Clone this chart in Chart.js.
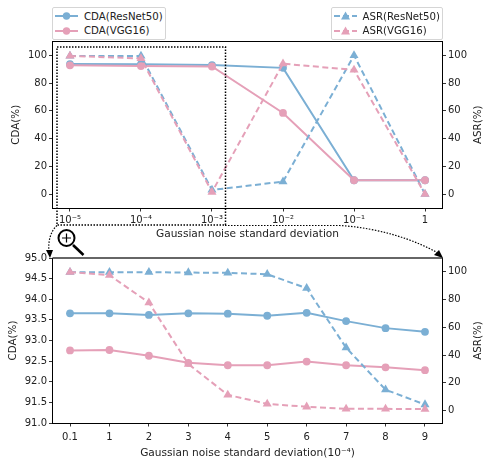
<!DOCTYPE html>
<html>
<head>
<meta charset="utf-8">
<script src="https://cdn.jsdelivr.net/npm/chart.js@4"></script>
<style>
  body { margin: 0; background: #fff; font-family: "DejaVu Sans", sans-serif; }
  #wrap { position: relative; width: 484px; height: 460px; overflow: hidden; }
  canvas { position: absolute; left: 0; }
  svg.over { position: absolute; left: 0; top: 0; pointer-events: none; }
  .legend { position: absolute; top: 7px; height: 33px; box-sizing: border-box; padding-top: 1px; border: 1px solid #d5d5d5; border-radius: 2px; background: #fff; font-size: 10.2px; color: #222; }
  .legend div { display: flex; align-items: center; height: 14.5px; white-space: nowrap; }
  .legend svg { margin: 0 6px 0 2px; flex: none; }
</style>
</head>
<body>
<div id="wrap">
  <canvas id="top" width="484" height="250" style="top:0"></canvas>
  <canvas id="bottom" width="484" height="210" style="top:250px"></canvas>
  <div class="legend" id="legendLeft" style="left:52px;width:113.5px"></div>
  <div class="legend" id="legendRight" style="left:330.5px;width:112.5px"></div>
  <svg class="over" width="484" height="460">
    <rect x="57" y="47" width="168.5" height="178" fill="none" stroke="#000" stroke-width="1.5" stroke-dasharray="1.5 1.5"/>
    <path d="M57 225.5 C50 232 48 242 49 252" fill="none" stroke="#000" stroke-width="1.2" stroke-dasharray="1.5 1.5"/>
    <path d="M46 250 L53 250 L50 258 Z" fill="#000"/>
    <path d="M225 225.5 L340 225.5 C380 228 415 240 438 253" fill="none" stroke="#000" stroke-width="1.2" stroke-dasharray="1.5 1.5"/>
    <path d="M434 255 L439 250 L443 258 Z" fill="#000"/>
    <circle cx="66.5" cy="238" r="8" fill="#fff" stroke="#000" stroke-width="2"/>
    <path d="M62 238 H71 M66.5 233.5 V242.5" stroke="#000" stroke-width="1.2"/>
    <path d="M73 245 L83.5 255" stroke="#000" stroke-width="2.6"/>
  </svg>
</div>
<script>
const blue = '#7bafd4';
const pink = '#e5a0b8';
const fontName = '"DejaVu Sans", sans-serif';

// upper chart
const topLabels = ['10⁻⁵', '10⁻⁴', '10⁻³', '10⁻²', '10⁻¹', '1'];
const topCdaResnet = [93.7, 93.6, 93, 91, 10, 10];
const topCdaVgg = [92.8, 92.3, 92, 58.5, 10, 10];
const topAsrResnet = [99.6, 99.6, 3, 9, 100, 0];
const topAsrVgg = [99.6, 97.8, 1.5, 94, 89.5, 0];
const topCdaTicks = [0, 20, 40, 60, 80, 100];

// lower chart (zoom)
const bottomLabels = ['0.1', '1', '2', '3', '4', '5', '6', '7', '8', '9'];
const bottomCdaResnet = [93.66, 93.66, 93.62, 93.66, 93.65, 93.6, 93.67, 93.47, 93.3, 93.21];
const bottomCdaVgg = [92.76, 92.77, 92.63, 92.46, 92.4, 92.4, 92.49, 92.4, 92.35, 92.28];
const bottomAsrResnet = [99.8, 99.8, 99.8, 99.5, 99.3, 98.3, 88.2, 45.3, 15, 4.3];
const bottomAsrVgg = [99.8, 97.6, 77.8, 33.5, 11.3, 4.8, 2.7, 1.2, 1.2, 1];
const bottomCdaTicks = [91, 91.5, 92, 92.5, 93, 93.5, 94, 94.5, 95];

const asrTicks = [0, 20, 40, 60, 80, 100];

const cdaName1 = 'CDA(ResNet50)', cdaName2 = 'CDA(VGG16)';
const asrName1 = 'ASR(ResNet50)', asrName2 = 'ASR(VGG16)';

function toPoints(values) {
    return values.map((v, i) => ({ x: i, y: v }));
}

function makeSet(label, values, color, axis, dashed, order) {
    return {
        label,
        data: toPoints(values),
        yAxisID: axis,
        order,
        borderColor: color,
        backgroundColor: color,
        borderWidth: 2,
        borderDash: dashed ? [6, 3.5] : [],
        pointStyle: dashed ? 'triangle' : 'circle',
        pointRadius: dashed ? 5.2 : 3.9,
        pointBorderWidth: 0,
        tension: 0,
        clip: false
    };
}

// vonalak a tengelyekhez: tick + szegély
function axisBase() {
    return {
        grid: { drawOnChartArea: false, color: '#000', tickLength: 3.5, tickWidth: 0.8 },
        border: { color: '#000', width: 1 }
    };
}

// felső szegély és a jobb oldali, alulról felfelé olvasható tengelycím
const boxPlugin = {
    id: 'box',
    afterDraw(chart, args, opts) {
        const a = chart.chartArea, c = chart.ctx;
        c.save();
        c.strokeStyle = opts.topColor || '#000';
        c.lineWidth = opts.topWidth || 1;
        c.beginPath();
        c.moveTo(a.left, a.top);
        c.lineTo(a.right, a.top);
        c.stroke();
        c.translate(478, (a.top + a.bottom) / 2);
        c.rotate(-Math.PI / 2);
        c.fillStyle = '#222';
        c.font = '10.3px ' + fontName;
        c.textAlign = 'center';
        c.textBaseline = 'middle';
        c.fillText('ASR(%)', 0, 0);
        c.restore();
    }
};

function makeChart(id, o) {
    return new Chart(document.getElementById(id).getContext('2d'), {
        type: 'line',
        data: {
            datasets: [
                makeSet(cdaName1, o.cda1, blue, 'y', false, 4),
                makeSet(cdaName2, o.cda2, pink, 'y', false, 3),
                makeSet(asrName1, o.asr1, blue, 'y2', true, 2),
                makeSet(asrName2, o.asr2, pink, 'y2', true, 1)
            ]
        },
        plugins: [boxPlugin],
        options: {
            responsive: false,
            animation: false,
            layout: { padding: { top: o.top } },
            plugins: {
                legend: { display: false },
                tooltip: { enabled: false },
                box: { topColor: o.topColor, topWidth: o.topWidth }
            },
            scales: {
                x: {
                    ...axisBase(),
                    type: 'linear',
                    min: -o.pad,
                    max: o.labels.length - 1 + o.pad,
                    afterFit: s => { s.height = o.xHeight; },
                    ticks: {
                        stepSize: 1,
                        includeBounds: false,
                        maxRotation: 0,
                        autoSkip: false,
                        padding: o.xTickPad,
                        color: '#222',
                        font: { family: fontName, size: 10 },
                        callback: v => o.labels[v]
                    },
                    title: {
                        display: true,
                        text: o.xTitle,
                        color: '#222',
                        padding: { top: 0, bottom: o.titleBottom },
                        font: { family: fontName, size: 10.6 }
                    }
                },
                y: {
                    ...axisBase(),
                    position: 'left',
                    min: o.yMin,
                    max: o.yMax,
                    afterFit: s => { s.width = 52.5; },
                    afterBuildTicks: s => { s.ticks = o.yTicks.map(v => ({ value: v })); },
                    ticks: {
                        padding: 2,
                        color: '#222',
                        font: { family: fontName, size: 10 },
                        callback: o.yFormat
                    },
                    title: {
                        display: true,
                        text: 'CDA(%)',
                        color: '#222',
                        padding: { top: o.yTitlePad, bottom: 0 },
                        font: { family: fontName, size: 10.3 }
                    }
                },
                y2: {
                    ...axisBase(),
                    position: 'right',
                    min: o.y2Min,
                    max: 110,
                    afterFit: s => { s.width = 41.5; },
                    afterBuildTicks: s => { s.ticks = asrTicks.map(v => ({ value: v })); },
                    ticks: {
                        padding: 2,
                        color: '#222',
                        font: { family: fontName, size: 10 }
                    }
                }
            }
        }
    });
}

makeChart('top', {
    labels: topLabels, cda1: topCdaResnet, cda2: topCdaVgg, asr1: topAsrResnet, asr2: topAsrVgg,
    top: 41.5, xHeight: 42, pad: 0.246, titleBottom: 9, xTickPad: 2.5, yTitlePad: 10,
    xTitle: 'Gaussian noise standard deviation',
    yMin: -10, yMax: 110, yTicks: topCdaTicks, y2Min: -10, yFormat: v => v
});

makeChart('bottom', {
    labels: bottomLabels, cda1: bottomCdaResnet, cda2: bottomCdaVgg, asr1: bottomAsrResnet, asr2: bottomAsrVgg,
    top: 7.7, xHeight: 37, pad: 0.444, titleBottom: 0, xTickPad: 5, yTitlePad: 7,
    topColor: '#333', topWidth: 1.6,
    xTitle: 'Gaussian noise standard deviation(10⁻⁴)',
    yMin: 91, yMax: 95, yTicks: bottomCdaTicks, y2Min: -9, yFormat: v => v.toFixed(1)
});

// jelmagyarázat
function addLegend(id, items) {
    const box = document.getElementById(id);
    items.forEach(([name, color, dashed]) => {
        const row = document.createElement('div');
        const mark = dashed
            ? '<path d="M11.5 1.5 L16 9.5 L7 9.5 Z" fill="' + color + '"/>'
            : '<circle cx="11.5" cy="6" r="3.7" fill="' + color + '"/>';
        row.innerHTML = '<svg width="23" height="12"><line x1="0" x2="23" y1="6" y2="6" stroke="' + color + '" stroke-width="2"'
            + (dashed ? ' stroke-dasharray="6 3"' : '') + '/>' + mark + '</svg><span>' + name + '</span>';
        box.appendChild(row);
    });
}
addLegend('legendLeft', [[cdaName1, blue, false], [cdaName2, pink, false]]);
addLegend('legendRight', [[asrName1, blue, true], [asrName2, pink, true]]);
</script>
</body>
</html>
